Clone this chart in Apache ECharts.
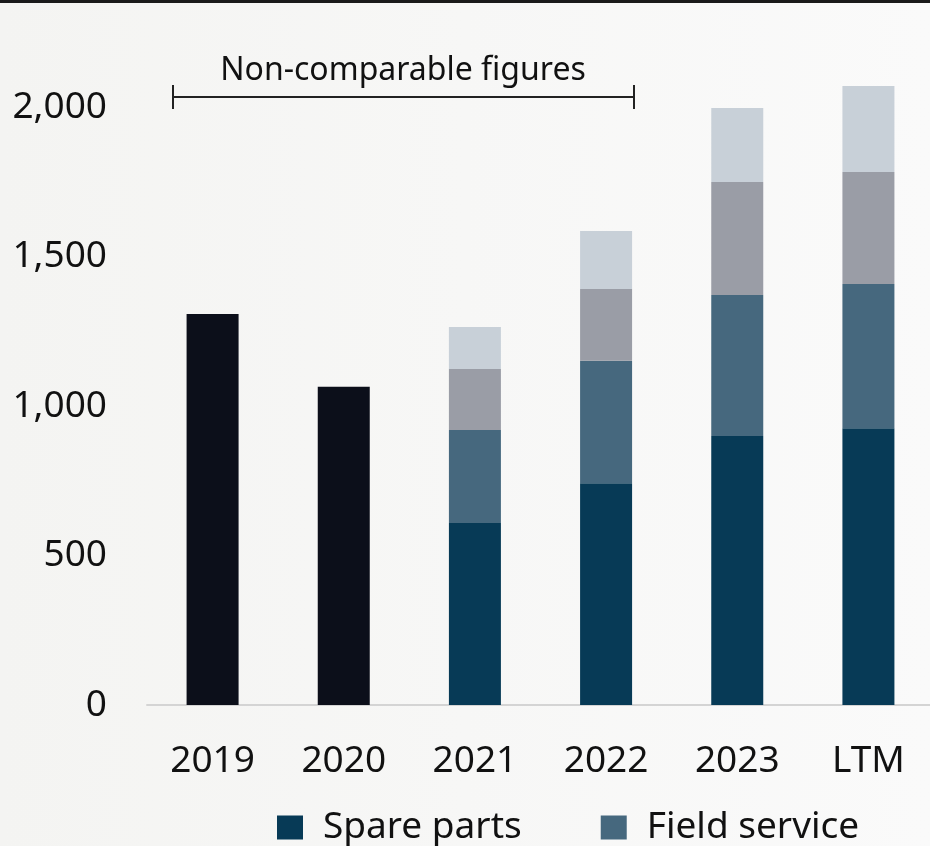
<!DOCTYPE html>
<html>
<head>
<meta charset="utf-8">
<script src="https://cdn.jsdelivr.net/npm/echarts@6/dist/echarts.min.js"></script>
<style>
  html, body { margin: 0; padding: 0; background: #f7f7f5; }
  #chart { width: 930px; height: 846px; }
</style>
</head>
<body>
<div id="chart"></div>
<script>
// 数据
const years = ["2019", "2020", "2021", "2022", "2023", "LTM"];
const totalOld = [1308, 1064, null, null, null, null];
const spareParts = [null, null, 609, 742, 900, 926];
const fieldService = [null, null, 311, 409, 471, 482];
const otherA = [null, null, 204, 240, 378, 375];
const otherB = [null, null, 140, 194, 248, 287];
const yTicks = [0, 500, 1000, 1500, 2000];

const font = "Noto Sans";

const chart = echarts.init(document.getElementById("chart"));

const stackBar = (name, data, color) => ({
  name: name,
  type: "bar",
  stack: "total",
  barWidth: 52,
  data: data,
  itemStyle: { color: color },
});

chart.setOption({
  backgroundColor: {
    type: "linear", x: 0, y: 0, x2: 1, y2: 0,
    colorStops: [
      { offset: 0, color: "#f4f4f2" },
      { offset: 1, color: "#fafafa" },
    ],
  },
  textStyle: { fontFamily: font },
  animation: false,
  // 0 在 705px，2000 在 107px
  grid: {
    left: 147,
    top: 47.2,
    width: 787,
    height: 657.8,
    outerBoundsMode: "none",
  },
  xAxis: {
    type: "category",
    data: years,
    axisTick: { show: false },
    axisLine: { lineStyle: { color: "#d4d4d4", width: 2 } },
    axisLabel: { fontSize: 37, color: "#111", margin: 38 },
  },
  yAxis: {
    type: "value",
    min: 0,
    max: 2200,
    interval: 500,
    splitLine: { show: false },
    axisLabel: {
      fontSize: 37,
      color: "#111",
      margin: 40,
      showMaxLabel: false,
      formatter: (v) => yTicks.includes(v) ? v.toLocaleString("en-US") : "",
    },
  },
  legend: {
    data: ["Spare parts", "Field service"],
    left: 277,
    top: 809,
    padding: 0,
    itemWidth: 26,
    itemHeight: 24,
    itemGap: 79,
    icon: "rect",
    textStyle: { fontSize: 37, color: "#111", padding: [0, 0, 0, 15] },
  },
  graphic: [
    // 顶部黑线
    { type: "rect", shape: { x: 0, y: 0, width: 930, height: 3 }, style: { fill: "#1a1a1a" } },
    // 不可比括号
    { type: "line", shape: { x1: 173, y1: 97, x2: 634, y2: 97 }, style: { stroke: "#222", lineWidth: 2 } },
    { type: "line", shape: { x1: 173, y1: 85, x2: 173, y2: 109 }, style: { stroke: "#222", lineWidth: 2 } },
    { type: "line", shape: { x1: 634, y1: 85, x2: 634, y2: 109 }, style: { stroke: "#222", lineWidth: 2 } },
    {
      type: "text",
      x: 403, y: 71,
      style: {
        text: "Non-comparable figures",
        font: "32px " + font,
        fill: "#111",
        textAlign: "center",
        textVerticalAlign: "middle",
      },
    },
  ],
  series: [
    stackBar("Total", totalOld, "#0c0f1a"),
    stackBar("Spare parts", spareParts, "#073a56"),
    stackBar("Field service", fieldService, "#46687e"),
    stackBar("Other", otherA, "#9a9da6"),
    stackBar("Other 2", otherB, "#c8d0d8"),
  ],
});
</script>
</body>
</html>
